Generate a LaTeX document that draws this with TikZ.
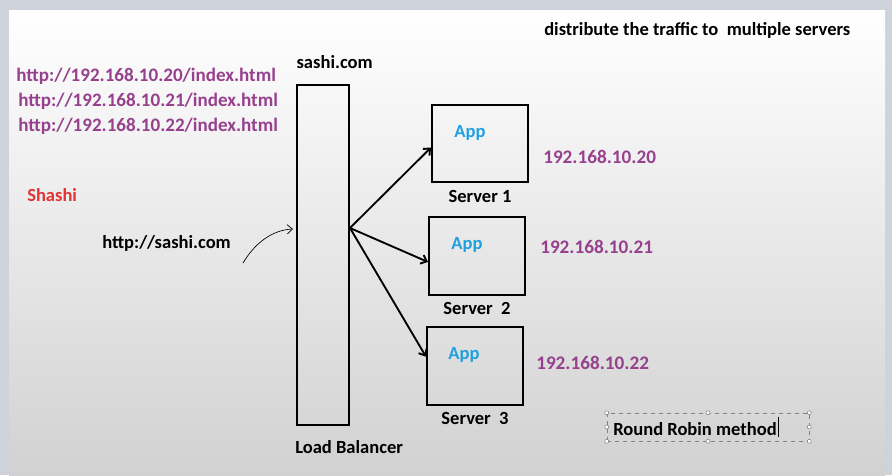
\documentclass[tikz,border=0pt]{standalone}
\usepackage{fontspec}
\setmainfont{Carlito}
\usetikzlibrary{positioning,arrows.meta}
\definecolor{urlpurple}{RGB}{150,64,142}
\definecolor{namered}{RGB}{224,52,52}
\definecolor{appblue}{RGB}{32,160,222}
\definecolor{framegray}{RGB}{206,210,218}
\tikzset{>={Straight Barb[length=4pt,width=7pt]}}
\tikzset{
  lbbox/.style={draw, line width=1.5pt, minimum width=39pt, minimum height=255pt},
  srvbox/.style={draw, line width=1.5pt, minimum width=72pt, minimum height=58pt},
  txt/.style={font=\fontsize{13.9}{16}\selectfont\bfseries, inner sep=0pt},
  webaddr/.style={inner sep=0pt, font=\fontsize{14.3}{16}\selectfont\bfseries, text=urlpurple, anchor=west},
  iptext/.style={inner sep=0pt, font=\fontsize{14.4}{16}\selectfont\bfseries, text=urlpurple, anchor=west},
  apptext/.style={txt, text=appblue},
  handle/.style={draw=gray, fill=white, line width=0.4pt, circle, inner sep=0pt, minimum size=3pt},
}

\begin{document}
\begin{tikzpicture}[x=0.75pt,y=-0.75pt]

  % background
  \fill[framegray] (0,0) rectangle (892,475);
  \shade[top color=white, middle color=white, bottom color=black!18] (9,10) rectangle (885,475);
  \useasboundingbox (0,0) rectangle (892,475);

  % Nodes
  \node[txt, anchor=west] (title) at (544,30) {distribute the traffic to\ \ multiple servers};
  \node[lbbox] (lb) at (323,255) {};
  \node[txt, above=11pt of lb.north, anchor=south west, xshift=-20pt] (dns) {sashi.com};
  \node[txt, below=11pt of lb.south, anchor=north west, xshift=-21pt] (lbname) {Load Balancer};

  \node[webaddr] (url1) at (16,76) {http://192.168.10.20/index.html};
  \node[webaddr] (url2) at (18,101) {http://192.168.10.21/index.html};
  \node[webaddr] (url3) at (18,126) {http://192.168.10.22/index.html};
  \node[txt, text=namered, anchor=west] (user) at (27,195) {Shashi};
  \node[txt, anchor=west] (client) at (102,243) {http://sashi.com};

  \node[srvbox] (srv1) at (480,143.5) {};
  \node[srvbox] (srv2) at (477,256) {};
  \node[srvbox] (srv3) at (475,366) {};

  \node[apptext] (app1) at (470,133) {App};
  \node[apptext] (app2) at (467,245) {App};
  \node[apptext] (app3) at (464,355) {App};

  \node[txt, below=5pt of srv1] (name1) {Server 1};
  \node[txt, below=5pt of srv2] (name2) {Server\ \ 2};
  \node[txt, below=5pt of srv3] (name3) {Server\ \ 3};

  \node[iptext] (ip1) at (543,157) {192.168.10.20};
  \node[iptext] (ip2) at (540,247) {192.168.10.21};
  \node[iptext] (ip3) at (536,363) {192.168.10.22};

  \node[draw=gray, dashed, line width=0.4pt, minimum width=151.5pt, minimum height=21pt] (rr) at (708,427) {};
  \node[txt, anchor=west] (rrtext) at (613,429) {Round Robin method};

  \coordinate (fork) at (350,228);
  \coordinate (cstart) at (243,263);
  \coordinate (cend) at (293,229);

  % connectors
  \draw[->, line width=1.4pt] (fork) -- ([yshift=-3pt]srv1.west);
  \draw[->, line width=1.4pt] (fork) -- ([yshift=-4.5pt]srv2.west);
  \draw[->, line width=1.4pt] (fork) -- ([yshift=7pt]srv3.west);
  \draw[->, line width=0.5pt] (cstart) .. controls (255,243) and (272,230) .. (cend);

  % selection handles
  \foreach \a in {north west, north, north east, east, south east, south, south west, west}
    \node[handle] at (rr.\a) {};
  \draw[line width=0.5pt] ([xshift=1pt]rrtext.east |- rr.north) ++(0,-3pt) -- ++(0,-15pt);

\end{tikzpicture}
\end{document}
